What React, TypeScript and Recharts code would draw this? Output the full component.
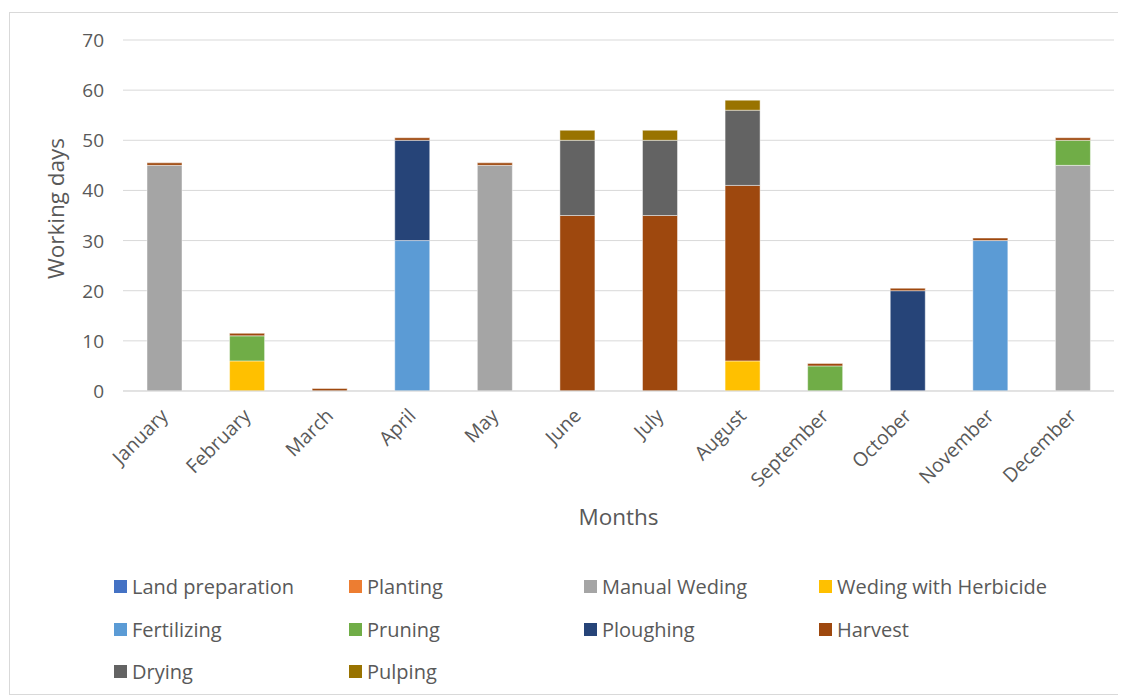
import React from 'react';
import { Bar, BarChart, CartesianGrid, XAxis, YAxis } from 'recharts';

const months = ['January', 'February', 'March', 'April', 'May', 'June', 'July', 'August', 'September', 'October', 'November', 'December'];

const landPreparation = [0, 0, 0, 0, 0, 0, 0, 0, 0, 0, 0, 0];
const planting = [0, 0, 0, 0, 0, 0, 0, 0, 0, 0, 0, 0];
const manualWeding = [45, 0, 0, 0, 45, 0, 0, 0, 0, 0, 0, 45];
const wedingHerbicide = [0, 6, 0, 0, 0, 0, 0, 6, 0, 0, 0, 0];
const fertilizing = [0, 0, 0, 30, 0, 0, 0, 0, 0, 0, 30, 0];
const pruning = [0, 5, 0, 0, 0, 0, 0, 0, 5, 0, 0, 5];
const ploughing = [0, 0, 0, 20, 0, 0, 0, 0, 0, 20, 0, 0];
const harvest = [0.5, 0.5, 0.5, 0.5, 0.5, 35, 35, 35, 0.5, 0.5, 0.5, 0.5];
const drying = [0, 0, 0, 0, 0, 15, 15, 15, 0, 0, 0, 0];
const pulping = [0, 0, 0, 0, 0, 2, 2, 2, 0, 0, 0, 0];

const yTicks = [0, 10, 20, 30, 40, 50, 60, 70];

const series = [
  { key: 'land', name: 'Land preparation', values: landPreparation, color: '#4472C4' },
  { key: 'planting', name: 'Planting', values: planting, color: '#ED7D31' },
  { key: 'manual', name: 'Manual Weding', values: manualWeding, color: '#A5A5A5' },
  { key: 'herbicide', name: 'Weding with Herbicide', values: wedingHerbicide, color: '#FFC000' },
  { key: 'fert', name: 'Fertilizing', values: fertilizing, color: '#5B9BD5' },
  { key: 'pruning', name: 'Pruning', values: pruning, color: '#70AD47' },
  { key: 'plough', name: 'Ploughing', values: ploughing, color: '#264478' },
  { key: 'harvest', name: 'Harvest', values: harvest, color: '#9E480E' },
  { key: 'drying', name: 'Drying', values: drying, color: '#636363' },
  { key: 'pulping', name: 'Pulping', values: pulping, color: '#997300' },
];

const data = months.map((month, i) => {
  const row: Record<string, string | number> = { month };
  series.forEach((s) => {
    row[s.key] = s.values[i];
  });
  return row;
});

const FONT = '"Open Sans", sans-serif';
const TEXT = '#595959';

// legend grid: 4 columns, rows of 4
const legendCols = [104, 339, 574, 809];
const legendRows = [573, 616, 658];

function XTick(props: any) {
  const { x, y, payload } = props;
  const ax = x + 5;
  const ay = y + 18;
  return (
    <text
      x={ax}
      y={ay}
      transform={`rotate(-45, ${ax}, ${ay})`}
      textAnchor="end"
      fill={TEXT}
      fontSize={19.5}
      fontFamily={FONT}
    >
      {payload.value}
    </text>
  );
}

function YTick(props: any) {
  const { x, y, payload } = props;
  return (
    <text x={x - 11} y={y + 7} textAnchor="end" fill={TEXT} fontSize={19} fontFamily={FONT}>
      {payload.value}
    </text>
  );
}

export default function App() {
  return (
    <div
      style={{
        position: 'relative',
        width: 1117,
        height: 683,
        marginLeft: 1,
        marginTop: 4,
        border: '1px solid #D9D9D9',
        boxSizing: 'border-box',
        background: '#fff',
        fontFamily: FONT,
      }}
    >
      <BarChart
        width={1115}
        height={540}
        data={data}
        margin={{ top: 27, right: 11, left: 0, bottom: 0 }}
        barSize={35}
      >
        <CartesianGrid vertical={false} stroke="#D9D9D9" strokeWidth={1} />
        <XAxis
          dataKey="month"
          interval={0}
          height={162}
          tick={<XTick />}
          tickLine={false}
          axisLine={{ stroke: '#D9D9D9' }}
          label={{
            value: 'Months',
            position: 'insideBottom',
            offset: 28,
            fill: TEXT,
            fontSize: 22.5,
            fontFamily: FONT,
          }}
        />
        <YAxis
          domain={[0, 70]}
          ticks={yTicks}
          width={113}
          tick={<YTick />}
          tickLine={false}
          axisLine={false}
          label={{
            value: 'Working days',
            angle: -90,
            position: 'insideLeft',
            offset: 46,
            dy: -7,
            fill: TEXT,
            fontSize: 22.5,
            fontFamily: FONT,
            style: { textAnchor: 'middle' },
          }}
        />
        {series.map((s) => (
          <Bar
            key={s.key}
            dataKey={s.key}
            name={s.name}
            stackId="a"
            fill={s.color}
            stroke="rgba(255,255,255,0.45)"
            strokeWidth={1}
            isAnimationActive={false}
          />
        ))}
      </BarChart>
      {series.map((s, i) => {
        const col = i % 4;
        const row = Math.floor(i / 4);
        return (
          <div
            key={s.key}
            style={{
              position: 'absolute',
              left: legendCols[col],
              top: legendRows[row] - 13,
              height: 26,
              display: 'flex',
              alignItems: 'center',
              color: TEXT,
              fontSize: 20,
              whiteSpace: 'nowrap',
            }}
          >
            <span
              style={{ display: 'inline-block', width: 13, height: 13, background: s.color, marginRight: 5 }}
            />
            {s.name}
          </div>
        );
      })}
    </div>
  );
}
